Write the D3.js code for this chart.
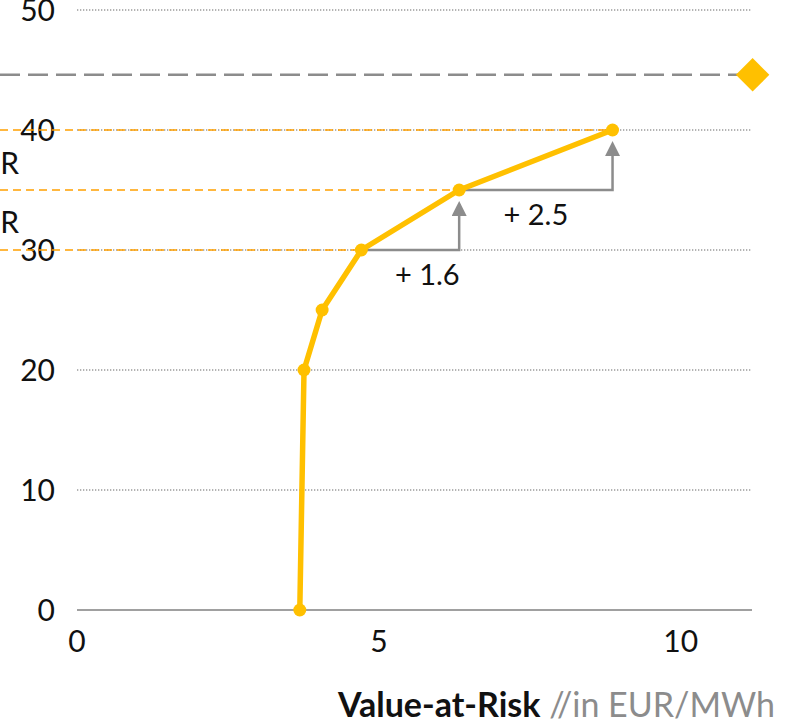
<!DOCTYPE html>
<html>
<head>
<meta charset="utf-8">
<script src="https://cdn.jsdelivr.net/npm/d3@7/dist/d3.min.js"></script>
<style>
  html, body { margin: 0; padding: 0; background: #fff; }
  svg { display: block; font-family: Lato, "Open Sans", sans-serif; }
</style>
</head>
<body>
<svg id="chart" width="790" height="721"></svg>
<script>
// Efficient frontier: value-at-risk (EUR/MWh) against target level
const varValues = [3.69, 3.76, 4.06, 4.71, 6.33, 8.87];
const levels    = [0, 20, 25, 30, 35, 40];
const yTicks    = [0, 10, 20, 30, 40, 50];
const xTicks    = [0, 5, 10];
const highlighted = [30, 35, 40];          // levels with a reference line
const sideLabels  = [{ level: 37.25, text: "VaR" }, { level: 32.3, text: "VaR" }];
const benchmark   = 44.6;                 // dashed reference level
const steps = [[3, 4], [4, 5]];           // index pairs showing VaR increments

const W = 790, H = 721;
const margin = { left: 77, right: 38, top: 10, bottom: 111 };
const stepLabelShift = [17, 0];           // horizontal nudge of each increment label
const svg = d3.select("#chart");

const x = d3.scaleLinear().domain([0, 11.18]).range([margin.left, W - margin.right]);
const y = d3.scaleLinear().domain([0, 50]).range([H - margin.bottom, margin.top]);

const pts = varValues.map((v, i) => ({ v, l: levels[i] }));
const yellow = "#FFC000", orange = "#FFA000", grey = "#8c8c8c";

// dotted grid lines
svg.append("g").selectAll("line").data(yTicks.filter(d => d > 0)).join("line")
  .attr("x1", x(0)).attr("x2", x(11.18))
  .attr("y1", d => y(d)).attr("y2", d => y(d))
  .attr("stroke", "#9a9a9a").attr("stroke-width", 1.3).attr("stroke-dasharray", "1.3,1.7");

// x axis base line
svg.append("line")
  .attr("x1", x(0)).attr("x2", x(11.18)).attr("y1", y(0)).attr("y2", y(0))
  .attr("stroke", "#a0a0a0").attr("stroke-width", 2);

// y tick labels
svg.append("g").selectAll("text").data(yTicks).join("text")
  .attr("x", margin.left - 22).attr("y", d => y(d)).attr("dy", "0.36em")
  .attr("text-anchor", "end").attr("font-size", 30).attr("fill", "#111")
  .text(d => d);

// x tick labels
svg.append("g").selectAll("text").data(xTicks).join("text")
  .attr("x", d => x(d)).attr("y", y(0) + 42)
  .attr("text-anchor", "middle").attr("font-size", 30).attr("fill", "#111")
  .text(d => d);

// orange reference lines from the left edge to each highlighted point
svg.append("g").selectAll("line").data(pts.filter(p => highlighted.includes(p.l))).join("line")
  .attr("x1", 0).attr("x2", p => x(p.v))
  .attr("y1", p => y(p.l)).attr("y2", p => y(p.l))
  .attr("stroke", orange).attr("stroke-width", 1.6).attr("stroke-dasharray", "8,5");

// side labels (partly outside the frame)
svg.append("g").selectAll("text").data(sideLabels).join("text")
  .attr("x", 19).attr("y", d => y(d.level)).attr("dy", "0.36em")
  .attr("text-anchor", "end").attr("font-size", 30).attr("fill", "#111")
  .text(d => d.text);

// benchmark dashed line and diamond
svg.append("line")
  .attr("x1", 0).attr("x2", x(11.0)).attr("y1", y(benchmark)).attr("y2", y(benchmark))
  .attr("stroke", grey).attr("stroke-width", 2.5).attr("stroke-dasharray", "20,8");
svg.append("path")
  .attr("d", d3.symbol(d3.symbolSquare, 560)())
  .attr("transform", `translate(${x(11.19)},${y(benchmark)}) rotate(45)`)
  .attr("fill", yellow);

// step arrows
svg.append("defs").append("marker")
  .attr("id", "head").attr("viewBox", "0 0 10 10").attr("refX", 8).attr("refY", 5)
  .attr("markerWidth", 6).attr("markerHeight", 6).attr("markerUnits", "strokeWidth")
  .attr("orient", "auto")
  .append("path").attr("d", "M0,0 L10,5 L0,10 Z").attr("fill", grey);

const stepG = svg.append("g");
steps.forEach(([a, b], i) => {
  const p = pts[a], q = pts[b];
  stepG.append("path")
    .attr("d", `M${x(p.v)},${y(p.l)} H${x(q.v)} V${y(q.l) + 14}`)
    .attr("fill", "none").attr("stroke", grey).attr("stroke-width", 2.5)
    .attr("marker-end", "url(#head)");
  stepG.append("text")
    .attr("x", (x(p.v) + x(q.v)) / 2 + stepLabelShift[i]).attr("y", y(p.l) + 35)
    .attr("text-anchor", "middle").attr("font-size", 29).attr("fill", "#111")
    .text("+ " + (q.v - p.v).toFixed(1));
});

// frontier line and points
svg.append("path").datum(pts)
  .attr("d", d3.line().x(p => x(p.v)).y(p => y(p.l)))
  .attr("fill", "none").attr("stroke", yellow).attr("stroke-width", 5.5)
  .attr("stroke-linejoin", "round");
svg.append("g").selectAll("circle").data(pts).join("circle")
  .attr("cx", p => x(p.v)).attr("cy", p => y(p.l)).attr("r", 6.5).attr("fill", yellow);

// axis title
const title = svg.append("text")
  .attr("x", 775).attr("y", 717).attr("text-anchor", "end").attr("font-size", 34);
title.append("tspan").attr("font-weight", "bold").attr("fill", "#111").text("Value-at-Risk");
title.append("tspan").attr("fill", "#8c8c8c").text(" //in EUR/MWh");
</script>
</body>
</html>
